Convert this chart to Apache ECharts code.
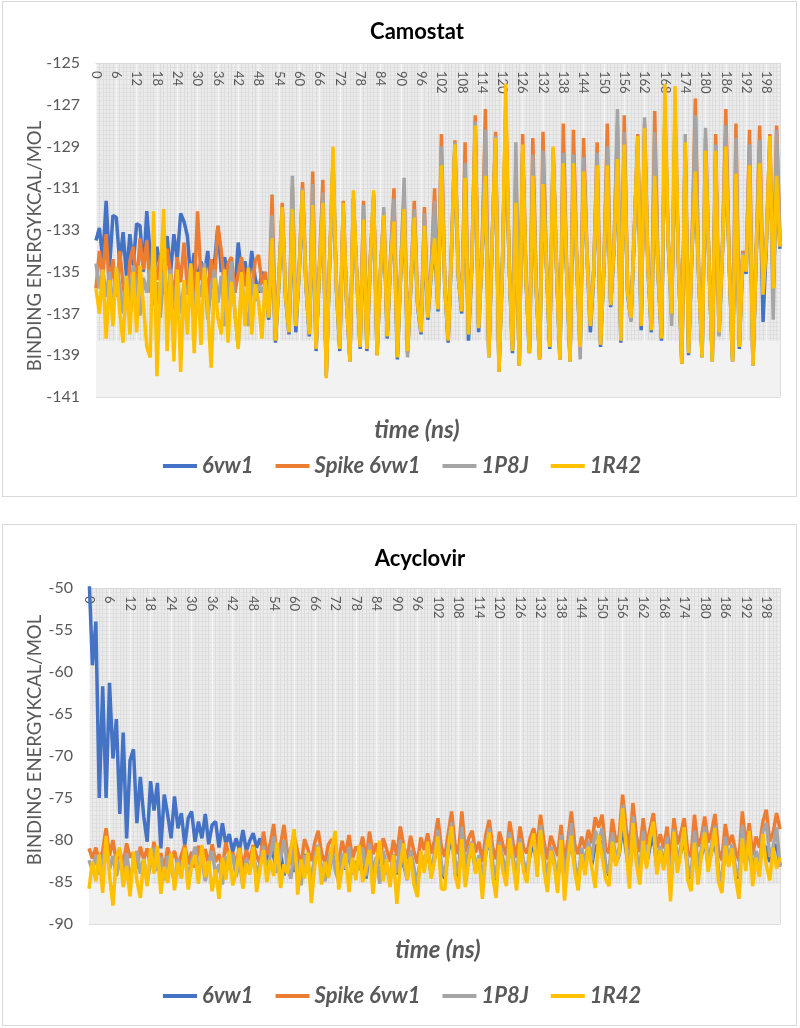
<!DOCTYPE html>
<html>
<head>
<meta charset="utf-8">
<script src="https://cdn.jsdelivr.net/npm/echarts@6.0.0/dist/echarts.min.js"></script>
<style>
  body { margin: 0; background: #fff; }
  .box { position: absolute; left: 2px; width: 795px; box-sizing: border-box; border: 1px solid #d9d9d9; background: #fff; }
  #camostat { top: 1px; height: 496px; }
  #acyclovir { top: 524px; height: 502px; }
</style>
</head>
<body>
<div id="camostat" class="box"></div>
<div id="acyclovir" class="box"></div>
<script>
// time axis, 0..202 ns
const timeNs = Array.from({ length: 203 }, (_, i) => String(i));
const seriesNames = ["6vw1", "Spike 6vw1", "1P8J", "1R42"];
const seriesColors = ["#4472C4", "#ED7D31", "#A5A5A5", "#FFC000"];

// Camostat binding energy (kcal/mol)
const camo6vw1 = [
  -133.5, -132.9, -134.4, -131.6, -134.8, -132.3, -132.4, -134.6, -133.1, -135.2,
  -133.2, -134.7, -132.7, -132.8, -135.0, -132.1, -134.2, -135.3, -133.8, -134.9,
  -134.0, -133.3, -135.1, -133.2, -134.4, -132.2, -132.6, -133.3, -135.4, -134.1,
  -135.6, -134.5, -135.2, -134.0, -135.8, -134.6, -132.8, -135.0, -134.3, -135.5,
  -134.7, -136.0, -133.6, -135.2, -134.5, -135.8, -134.0, -135.3, -136.0, -135.0,
  -135.6, -137.3, -133.8, -138.4, -135.7, -132.3, -136.3, -138.0, -132.4, -137.9,
  -135.1, -131.5, -135.7, -138.1, -132.2, -138.8, -134.9, -132.1, -140.0, -134.6,
  -129.6, -135.9, -138.8, -132.1, -136.5, -139.3, -131.5, -135.3, -138.7, -132.8,
  -138.8, -134.7, -131.5, -139.0, -135.2, -132.7, -138.2, -134.5, -132.9, -139.2,
  -135.1, -132.4, -138.9, -135.7, -132.7, -136.7, -138.0, -133.1, -137.3, -135.1,
  -133.7, -136.9, -130.3, -135.7, -138.4, -134.1, -129.3, -135.3, -137.0, -130.8,
  -138.3, -134.7, -128.4, -137.9, -134.3, -130.7, -139.1, -133.6, -129.0, -139.8,
  -135.1, -127.5, -134.7, -138.9, -131.8, -139.5, -129.3, -135.5, -138.9, -130.7,
  -135.9, -139.2, -131.1, -134.7, -138.7, -129.4, -134.9, -139.2, -130.2, -135.1,
  -139.3, -130.1, -134.8, -138.7, -130.5, -134.3, -137.9, -135.1, -130.2, -138.6,
  -134.9, -130.2, -136.7, -133.9, -130.0, -138.4, -129.3, -136.1, -137.3, -133.1,
  -128.9, -137.8, -128.5, -134.9, -137.9, -130.7, -135.2, -138.3, -127.4, -133.7,
  -137.1, -127.3, -134.6, -139.4, -129.2, -139.0, -134.1, -130.5, -135.4, -139.1,
  -129.6, -134.6, -139.3, -129.5, -138.0, -134.1, -129.4, -134.7, -139.3, -130.6,
  -138.7, -134.3, -135.1, -130.2, -139.5, -134.1, -130.1, -137.4, -133.6, -128.9,
  -135.9, -130.7, -133.9
];
const camoSpike = [
  -135.8, -134.0, -135.2, -133.2, -135.9, -134.4, -136.2, -134.0, -135.6, -136.8,
  -134.5, -133.8, -135.7, -133.4, -134.9, -133.5, -136.0, -134.6, -135.4, -134.2,
  -136.1, -133.9, -135.0, -136.3, -134.3, -135.5, -133.6, -135.8, -134.7, -136.0,
  -132.1, -135.4, -134.8, -136.2, -134.4, -135.5, -132.8, -134.0, -135.9, -134.6,
  -134.3, -136.0, -135.1, -134.3, -135.7, -134.9, -136.1, -134.5, -134.2, -135.6,
  -135.0, -136.9, -131.3, -138.0, -135.2, -131.7, -136.0, -137.6, -130.9, -137.5,
  -134.8, -130.7, -135.3, -137.7, -130.2, -138.5, -134.6, -130.6, -139.8, -134.3,
  -130.3, -135.5, -138.4, -131.6, -136.2, -139.0, -131.5, -135.0, -138.3, -131.6,
  -138.4, -134.3, -131.3, -138.7, -134.9, -132.3, -137.8, -134.2, -131.0, -138.8,
  -134.8, -131.2, -138.5, -135.4, -131.6, -136.4, -137.6, -131.9, -137.0, -134.7,
  -131.0, -136.5, -128.4, -135.3, -138.1, -133.7, -128.7, -135.0, -136.7, -128.8,
  -137.9, -134.3, -127.5, -137.5, -134.0, -127.2, -138.9, -133.3, -128.3, -139.6,
  -134.8, -127.0, -134.4, -138.6, -129.8, -139.3, -128.4, -135.2, -138.7, -128.6,
  -135.6, -139.0, -128.3, -134.4, -138.4, -129.3, -134.6, -139.0, -127.9, -134.8,
  -139.1, -128.2, -134.5, -138.4, -128.6, -134.0, -137.4, -134.8, -128.8, -138.3,
  -134.6, -127.9, -136.4, -133.6, -128.0, -138.1, -127.5, -135.8, -137.0, -132.8,
  -128.4, -137.4, -127.9, -134.6, -137.6, -127.3, -134.9, -138.0, -127.5, -133.4,
  -136.8, -128.5, -134.3, -139.2, -129.0, -138.7, -133.8, -126.7, -135.1, -138.9,
  -128.6, -134.3, -139.1, -128.4, -137.7, -133.8, -127.2, -134.4, -139.1, -127.9,
  -138.4, -134.0, -134.8, -128.2, -139.3, -133.8, -128.0, -135.9, -133.3, -128.4,
  -135.6, -128.0, -133.5
];
const camo1P8J = [
  -134.6, -135.8, -134.9, -136.2, -135.0, -136.8, -134.8, -135.6, -137.0, -135.2,
  -136.4, -134.7, -135.9, -137.1, -135.3, -136.0, -134.9, -136.6, -135.5, -137.2,
  -135.0, -136.3, -134.9, -136.8, -135.4, -137.0, -135.6, -136.1, -134.8, -136.9,
  -135.5, -136.2, -134.6, -137.3, -135.7, -134.9, -136.5, -135.2, -137.6, -135.8,
  -134.5, -137.0, -138.6, -135.4, -136.8, -137.6, -135.3, -136.4, -135.6, -136.0,
  -135.6, -137.0, -132.3, -138.1, -135.4, -132.0, -136.1, -137.8, -130.4, -137.6,
  -134.9, -131.0, -135.5, -137.9, -130.8, -138.6, -134.7, -131.2, -139.9, -134.4,
  -130.6, -135.6, -138.6, -131.9, -136.3, -139.2, -131.7, -135.1, -138.5, -131.8,
  -138.6, -134.5, -131.6, -138.9, -135.0, -131.9, -138.0, -134.3, -131.5, -139.0,
  -134.9, -130.5, -139.1, -135.5, -132.0, -136.5, -137.8, -132.2, -137.1, -134.9,
  -131.6, -136.7, -129.0, -135.5, -138.2, -133.9, -128.8, -135.1, -136.8, -129.8,
  -138.0, -134.5, -127.8, -137.6, -134.1, -128.2, -139.0, -133.4, -128.5, -139.7,
  -134.9, -127.3, -134.5, -138.7, -128.8, -139.4, -129.3, -135.3, -138.8, -129.4,
  -135.7, -139.1, -129.2, -134.5, -138.5, -129.1, -134.7, -139.1, -129.3, -134.9,
  -139.2, -129.4, -134.6, -139.2, -129.5, -134.1, -137.5, -134.9, -129.3, -138.4,
  -134.7, -129.0, -136.5, -133.7, -127.2, -138.2, -128.3, -135.9, -137.4, -132.9,
  -128.7, -137.5, -127.6, -134.7, -137.7, -128.3, -135.0, -138.1, -128.1, -133.5,
  -137.6, -127.9, -134.4, -139.3, -128.4, -138.8, -133.9, -127.5, -135.2, -139.0,
  -128.1, -134.4, -139.2, -128.9, -138.1, -133.9, -128.0, -134.5, -139.2, -128.6,
  -138.5, -134.1, -134.9, -128.9, -139.4, -133.9, -128.7, -136.0, -133.4, -128.9,
  -137.3, -128.2, -133.6
];
const camo1R42 = [
  -135.8, -137.0, -134.9, -138.2, -135.4, -137.6, -134.8, -136.9, -138.4, -135.2,
  -138.0, -135.0, -137.9, -134.7, -136.6, -138.6, -139.1, -132.1, -140.0, -135.3,
  -132.0, -138.8, -135.1, -139.3, -134.9, -139.8, -135.4, -138.0, -134.6, -138.9,
  -135.0, -138.5, -134.8, -136.7, -139.6, -135.3, -137.2, -138.0, -134.9, -138.4,
  -135.5, -136.8, -138.7, -135.0, -137.6, -134.8, -138.0, -135.6, -136.4, -138.2,
  -135.4, -137.2, -133.4, -138.3, -135.6, -131.9, -136.2, -137.9, -132.0, -137.6,
  -135.0, -131.1, -135.6, -138.0, -131.8, -138.7, -134.8, -131.7, -140.1, -134.5,
  -129.0, -135.8, -138.7, -131.7, -136.4, -139.3, -131.1, -135.2, -138.6, -132.5,
  -138.7, -134.6, -131.1, -139.0, -135.1, -132.3, -138.1, -134.4, -132.6, -139.1,
  -135.0, -132.0, -138.8, -135.6, -132.4, -136.6, -137.9, -132.8, -137.2, -135.0,
  -133.4, -136.8, -129.9, -135.6, -138.3, -134.0, -128.9, -135.2, -136.9, -130.5,
  -138.0, -134.6, -128.0, -137.7, -134.2, -130.4, -139.1, -133.5, -128.6, -139.8,
  -135.0, -126.0, -134.6, -138.8, -131.7, -139.5, -128.9, -135.4, -138.9, -130.4,
  -135.8, -139.2, -130.8, -134.6, -138.6, -129.0, -134.8, -139.2, -129.8, -135.0,
  -139.3, -129.8, -134.7, -138.6, -130.2, -134.2, -137.6, -135.0, -129.9, -138.5,
  -134.8, -129.9, -136.6, -133.8, -129.6, -138.3, -128.9, -136.0, -137.2, -133.0,
  -128.5, -137.6, -128.1, -134.8, -137.8, -130.4, -135.1, -138.2, -126.0, -133.6,
  -137.0, -126.1, -134.5, -139.4, -128.8, -138.9, -134.0, -130.2, -135.3, -139.1,
  -129.2, -134.5, -139.3, -129.2, -137.9, -134.0, -129.0, -134.6, -139.3, -130.3,
  -138.6, -134.2, -135.0, -129.9, -139.5, -134.0, -129.8, -136.1, -133.5, -128.5,
  -135.8, -130.4, -133.8
];

// Acyclovir binding energy (kcal/mol)
const acy6vw1 = [
  -48.5, -59.2, -54.0, -75.0, -61.7, -75.0, -61.3, -70.3, -65.6, -76.9,
  -67.2, -79.8, -70.5, -69.2, -78.0, -72.5, -77.2, -80.2, -73.0, -76.5,
  -73.2, -81.0, -74.6, -77.0, -79.8, -74.8, -78.6, -76.8, -80.6, -77.4,
  -76.6, -80.2, -77.8, -79.8, -76.9, -80.5, -78.2, -77.8, -80.9, -78.0,
  -80.5, -79.3, -81.4, -79.8, -81.2, -78.8, -81.3, -80.1, -79.2, -80.9,
  -79.8, -81.5, -82.3, -80.6, -82.0, -83.7, -81.5, -84.2, -82.6, -80.9,
  -83.8, -82.2, -84.5, -81.7, -83.1, -85.0, -82.4, -81.0, -83.9, -82.7,
  -84.3, -81.6, -82.9, -84.8, -82.1, -83.5, -81.2, -84.0, -82.8, -83.4,
  -81.4, -84.6, -81.0, -83.9, -82.3, -84.7, -81.9, -83.2, -84.9, -82.0,
  -84.1, -80.8, -83.0, -84.5, -81.7, -83.6, -85.2, -81.9, -83.3, -81.1,
  -84.0, -82.2, -80.0, -83.5, -84.6, -81.4, -79.5, -83.0, -84.4, -80.3,
  -83.9, -81.8, -81.0, -83.7, -82.1, -85.3, -81.5, -80.0, -83.2, -84.8,
  -81.0, -82.7, -84.1, -80.6, -82.5, -84.9, -80.9, -82.9, -83.9, -81.6,
  -80.5, -83.1, -79.8, -82.6, -84.7, -81.5, -82.8, -84.9, -80.7, -84.6,
  -82.1, -80.0, -83.0, -84.7, -81.6, -83.3, -81.0, -82.9, -80.6, -81.2,
  -80.1, -83.1, -84.2, -80.5, -82.8, -81.7, -78.4, -81.3, -84.3, -79.3,
  -82.1, -84.0, -80.4, -82.9, -80.8, -79.6, -83.3, -81.6, -83.2, -80.9,
  -85.6, -80.2, -82.9, -81.5, -80.0, -83.4, -84.6, -80.6, -83.3, -81.9,
  -80.1, -83.0, -81.4, -80.0, -83.9, -84.9, -81.0, -82.8, -81.3, -83.6,
  -84.6, -80.2, -83.0, -80.6, -84.1, -81.9, -83.1, -80.4, -81.0, -82.6,
  -81.4, -80.5, -83.0
];
const acySpike = [
  -81.0, -82.2, -80.9, -82.5, -81.3, -78.6, -81.9, -80.0, -82.6, -81.2,
  -83.0, -80.4, -82.1, -81.5, -83.4, -80.8, -82.3, -81.0, -83.2, -80.2,
  -82.7, -81.6, -83.5, -80.9, -82.4, -81.3, -83.1, -81.8, -80.6, -82.9,
  -81.4, -83.3, -80.7, -82.2, -81.1, -83.0, -80.5, -82.6, -81.7, -83.4,
  -80.3, -82.0, -81.5, -82.8, -80.9, -83.2, -81.2, -82.4, -80.6, -81.9,
  -82.8, -79.0, -81.8, -80.4, -78.1, -82.3, -80.6, -78.2, -81.7, -82.9,
  -79.6, -81.4, -83.0, -79.9, -81.1, -82.5, -80.3, -78.9, -81.6, -82.7,
  -80.5, -79.9, -81.3, -82.6, -80.1, -81.8, -79.4, -82.2, -80.8, -81.5,
  -79.6, -82.4, -79.0, -81.7, -80.4, -82.9, -79.8, -81.1, -82.6, -80.0,
  -81.9, -78.4, -80.7, -82.3, -79.5, -81.4, -82.8, -79.7, -81.2, -79.2,
  -81.6, -80.1, -77.4, -80.8, -82.0, -79.3, -76.6, -80.5, -81.7, -76.6,
  -81.4, -79.8, -78.9, -81.5, -80.2, -82.6, -79.4, -77.6, -80.9, -82.3,
  -79.0, -80.6, -81.8, -77.8, -80.4, -82.1, -78.4, -80.9, -81.6, -79.7,
  -78.6, -80.8, -77.0, -80.2, -82.3, -79.5, -80.7, -81.9, -78.2, -82.8,
  -80.0, -76.6, -80.5, -81.7, -79.6, -81.0, -78.8, -80.4, -77.3, -78.5,
  -77.0, -80.9, -81.6, -77.5, -80.3, -79.4, -74.6, -78.6, -81.2, -75.6,
  -79.5, -81.4, -77.4, -80.6, -78.7, -76.8, -80.9, -79.3, -81.0, -78.4,
  -82.6, -77.4, -80.5, -79.2, -77.4, -81.3, -82.0, -77.0, -80.8, -79.7,
  -77.2, -80.3, -79.0, -76.9, -81.2, -82.4, -78.1, -80.6, -79.4, -81.3,
  -82.5, -76.6, -80.7, -78.0, -81.8, -79.6, -80.9, -77.8, -76.4, -80.2,
  -79.1, -76.8, -78.7
];
const acy1P8J = [
  -82.4, -83.6, -81.8, -84.1, -82.7, -80.2, -83.5, -81.9, -84.3, -82.5,
  -83.8, -81.6, -84.6, -82.9, -81.3, -84.0, -82.2, -85.1, -82.8, -80.9,
  -83.7, -82.0, -84.8, -81.9, -83.4, -85.0, -82.3, -83.9, -81.5, -84.5,
  -82.6, -80.8, -83.6, -82.1, -84.9, -82.7, -81.3, -84.2, -82.9, -85.3,
  -82.0, -83.5, -81.7, -84.4, -82.5, -85.6, -82.2, -83.8, -81.4, -84.0,
  -82.8, -80.7, -83.6, -81.9, -79.6, -83.9, -82.1, -80.0, -83.3, -84.6,
  -81.0, -83.2, -85.4, -81.8, -83.0, -84.7, -82.0, -80.6, -83.5, -84.9,
  -82.3, -81.1, -83.7, -85.0, -81.6, -83.4, -80.8, -84.1, -82.5, -83.6,
  -80.9, -84.3, -80.4, -83.8, -82.0, -85.2, -81.3, -83.1, -84.5, -81.7,
  -83.9, -80.0, -82.6, -84.8, -81.2, -83.3, -85.9, -81.4, -83.0, -80.7,
  -83.8, -81.6, -78.8, -82.9, -84.3, -80.6, -77.9, -82.4, -84.0, -78.4,
  -83.5, -81.1, -80.2, -83.3, -81.8, -85.4, -80.9, -78.6, -82.7, -84.6,
  -80.3, -82.2, -83.9, -79.1, -81.9, -84.8, -79.8, -82.5, -83.7, -80.9,
  -79.7, -82.6, -78.2, -82.0, -84.9, -80.8, -82.3, -85.2, -79.4, -84.5,
  -81.6, -78.0, -82.7, -85.1, -80.9, -82.8, -80.1, -82.4, -78.9, -80.2,
  -78.6, -82.8, -84.0, -79.1, -82.4, -80.9, -75.8, -80.2, -84.1, -77.2,
  -81.3, -83.9, -78.9, -82.4, -79.9, -77.9, -82.8, -80.7, -82.9, -79.6,
  -85.8, -78.7, -82.4, -80.8, -78.5, -83.0, -84.4, -78.9, -82.9, -81.2,
  -78.4, -82.5, -80.6, -78.3, -83.6, -85.0, -79.6, -82.4, -80.5, -83.4,
  -84.3, -78.2, -82.6, -79.4, -83.9, -81.3, -82.7, -79.0, -78.0, -82.0,
  -80.8, -78.5, -83.2
];
const acy1R42 = [
  -85.8, -82.6, -84.9, -81.7, -86.3, -79.5, -84.2, -87.8, -82.0, -80.9,
  -85.6, -83.1, -86.7, -81.4, -84.8, -86.9, -82.3, -85.5, -81.0, -84.0,
  -80.7, -86.4, -83.2, -85.1, -81.6, -86.0, -82.7, -84.6, -80.9, -85.9,
  -83.0, -81.8, -85.2, -80.6, -84.4, -82.5, -86.1, -83.5, -87.0, -82.1,
  -84.7, -81.3, -85.4, -83.9, -81.0, -85.8, -82.8, -84.1, -80.8, -86.2,
  -83.4, -81.2, -85.0, -82.4, -84.3, -80.3, -85.7, -82.9, -84.0, -81.1,
  -78.7, -86.5, -82.3, -84.6, -81.5, -87.5, -83.0, -80.8, -85.3, -82.6,
  -84.5, -81.0, -78.9, -85.9, -83.4, -81.6, -86.2, -82.1, -84.8, -80.6,
  -85.0, -83.3, -81.2, -86.4, -82.7, -80.1, -84.9, -82.3, -85.6, -81.8,
  -87.6, -83.0, -80.4, -84.7, -82.0, -85.3, -86.8, -81.3, -83.9, -80.2,
  -84.6, -82.5, -79.6, -85.8, -85.9, -81.0, -78.4, -84.2, -85.8, -79.9,
  -85.6, -82.6, -80.4, -84.0, -82.2, -87.0, -81.5, -79.1, -84.3, -86.9,
  -80.6, -83.7, -85.5, -79.8, -82.9, -86.0, -80.3, -83.6, -85.1, -81.0,
  -79.2, -84.4, -78.8, -83.5, -86.2, -81.3, -83.0, -86.3, -80.0, -87.2,
  -82.4, -79.5, -83.8, -86.0, -81.7, -84.2, -80.8, -83.3, -85.7, -79.4,
  -82.0, -84.6, -85.5, -80.2, -83.1, -81.5, -76.2, -80.9, -85.8, -78.0,
  -82.8, -85.3, -80.1, -83.4, -79.6, -77.8, -84.1, -81.2, -83.6, -80.5,
  -87.3, -79.0, -83.9, -81.6, -78.5, -84.7, -86.1, -80.3, -85.3, -82.0,
  -79.1, -83.8, -81.4, -78.6, -84.9, -86.3, -80.7, -83.2, -81.0, -84.5,
  -87.0, -79.8, -83.7, -78.9, -85.5, -82.1, -84.4, -79.3, -83.0, -84.8,
  -80.9, -83.4, -82.1
];

const textGrey = "#595959";
const fontFamily = "Lato, 'Open Sans', sans-serif";

function buildOption(cfg) {
  return {
    animation: false,
    title: {
      text: cfg.title,
      left: cfg.titleX,
      top: cfg.titleTop,
      textAlign: "center",
      padding: 0,
      textStyle: { fontFamily, fontSize: 22, fontWeight: "bold", color: "#000" },
    },
    legend: {
      data: seriesNames,
      top: cfg.legendTop,
      left: 160,
      padding: 0,
      icon: "rect",
      itemWidth: 34,
      itemHeight: 4,
      itemGap: 22,
      textStyle: { fontFamily, fontSize: 22, fontWeight: "bold", fontStyle: "italic", color: textGrey },
    },
    grid: {
      left: cfg.grid[0],
      top: cfg.grid[1],
      width: cfg.grid[2],
      height: cfg.grid[3],
      show: true,
      backgroundColor: "#ebebeb",
      borderWidth: 0,
    },
    xAxis: [
      {
        type: "category",
        data: timeNs,
        boundaryGap: false,
        position: "top",
        axisLine: { show: true, lineStyle: { color: "#d9d9d9" } },
        axisTick: { show: false },
        axisLabel: {
          inside: true, rotate: 90, interval: 5, margin: 8,
          color: textGrey, fontSize: 13, fontFamily,
        },
        splitLine: { show: true, interval: 0, lineStyle: { color: "#dddddd", width: 1 } },
      },
      {
        // lighter stripes at every labelled step
        type: "category",
        data: timeNs,
        boundaryGap: false,
        position: "bottom",
        axisLine: { show: false },
        axisTick: { show: false },
        axisLabel: { show: false },
        splitLine: { show: true, interval: 5, lineStyle: { color: "#f6f6f6", width: 1 } },
      },
    ],
    yAxis: {
      type: "value",
      min: cfg.yMin,
      max: cfg.yMax,
      interval: cfg.yStep,
      axisLine: { show: false },
      axisTick: { show: false },
      axisLabel: { color: textGrey, fontSize: 16, fontFamily, margin: 16 },
      splitLine: { lineStyle: { color: "#dedede" } },
      minorTick: { show: false, splitNumber: 10 },
      minorSplitLine: { show: true, lineStyle: { color: "#e0e0e0" } },
    },
    graphic: [
      {
        type: "text", x: 32, y: cfg.yNameY, rotation: Math.PI / 2,
        style: {
          text: "BINDING ENERGYKCAL/MOL", fill: textGrey, align: "center", verticalAlign: "middle",
          fontFamily, fontSize: 18.5,
        },
      },
      {
        type: "text", x: cfg.xNamePos[0], y: cfg.xNamePos[1],
        style: {
          text: "time (ns)", fill: textGrey, align: "center", verticalAlign: "middle",
          fontFamily, fontSize: 24, fontWeight: "bold", fontStyle: "italic",
        },
      },
    ],
    series: cfg.data.map((values, k) => ({
      name: seriesNames[k],
      type: "line",
      data: values,
      showSymbol: false,
      symbol: "none",
      lineStyle: { width: 3.5, color: seriesColors[k] },
      itemStyle: { color: seriesColors[k] },
      emphasis: { disabled: true },
      markArea: k === 0 ? {
        silent: true,
        itemStyle: { color: "#f2f2f2", opacity: 1 },
        data: [[{ yAxis: cfg.bandTop }, { yAxis: cfg.yMin }]],
      } : undefined,
    })),
  };
}

const camoChart = echarts.init(document.getElementById("camostat"));
camoChart.setOption(buildOption({
  title: "Camostat",
  titleX: 414, titleTop: 19,
  legendTop: 453,
  grid: [93, 61, 684, 334],
  yMin: -141, yMax: -125, yStep: 2,
  bandTop: -138.3,
  yNameY: 244,
  xNamePos: [414, 428],
  data: [camo6vw1, camoSpike, camo1P8J, camo1R42],
}));

const acyChart = echarts.init(document.getElementById("acyclovir"));
acyChart.setOption(buildOption({
  title: "Acyclovir",
  titleX: 417, titleTop: 23,
  legendTop: 460,
  grid: [86, 63, 691, 336],
  yMin: -90, yMax: -50, yStep: 5,
  bandTop: -85.2,
  yNameY: 215,
  xNamePos: [435, 425],
  data: [acy6vw1, acySpike, acy1P8J, acy1R42],
}));
</script>
</body>
</html>
